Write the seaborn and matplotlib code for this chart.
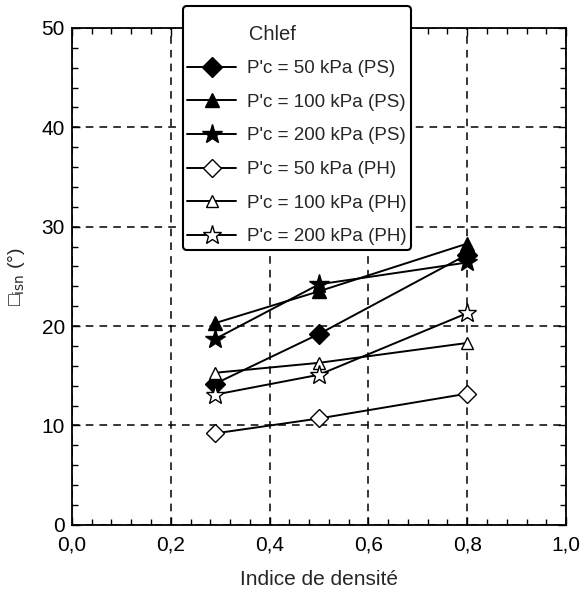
import matplotlib
matplotlib.use("Agg")
import matplotlib.pyplot as plt
import seaborn as sns
import pandas as pd
from matplotlib.ticker import MultipleLocator, FuncFormatter

sns.set_theme(style="ticks")
plt.rcParams['font.family'] = ['Liberation Sans', 'DejaVu Sans']

# ---- data ----
density_index = [0.29, 0.50, 0.80]
ps_50 = [14.2, 19.2, 27.2]
ps_100 = [20.3, 23.5, 28.3]
ps_200 = [18.7, 24.2, 26.4]
ph_50 = [9.2, 10.7, 13.2]
ph_100 = [15.3, 16.3, 18.3]
ph_200 = [13.1, 15.1, 21.3]
series_labels = ["P'c = 50 kPa (PS)", "P'c = 100 kPa (PS)", "P'c = 200 kPa (PS)",
                 "P'c = 50 kPa (PH)", "P'c = 100 kPa (PH)", "P'c = 200 kPa (PH)"]
x_ticks = [0.0, 0.2, 0.4, 0.6, 0.8, 1.0]
y_ticks = [0, 10, 20, 30, 40, 50]

series_values = [ps_50, ps_100, ps_200, ph_50, ph_100, ph_200]
rows = []
for lab, vals in zip(series_labels, series_values):
    for x, v in zip(density_index, vals):
        rows.append({"Indice de densité": x, "angle": v, "serie": lab})
df = pd.DataFrame(rows)

styles = [
    dict(marker="D", ms=10, mfc="black"),
    dict(marker="^", ms=10, mfc="black"),
    dict(marker="*", ms=15, mfc="black"),
    dict(marker="D", ms=9, mfc="white"),
    dict(marker="^", ms=9, mfc="white"),
    dict(marker="*", ms=14, mfc="white"),
]

fig = plt.figure(figsize=(5.8, 5.95), dpi=100)
ax = fig.add_axes([0.124, 0.118, 0.852, 0.835])

for lab, st in zip(series_labels, styles):
    sub = df[df["serie"] == lab]
    sns.lineplot(data=sub, x="Indice de densité", y="angle", ax=ax,
                 color="black", lw=1.4, mec="black", mew=1.0,
                 label=lab, zorder=3, **st)

ax.set_xlim(0, 1)
ax.set_ylim(0, 50)
ax.set_xticks(x_ticks)
ax.set_yticks(y_ticks)
ax.xaxis.set_minor_locator(MultipleLocator(0.04))
ax.yaxis.set_minor_locator(MultipleLocator(2))
ax.xaxis.set_major_formatter(FuncFormatter(lambda v, p: f"{v:.1f}".replace(".", ",")))
ax.tick_params(which="both", direction="in", top=True, right=True, colors="black",
               labelsize=15, width=1.0)
ax.tick_params(which="major", length=6)
ax.tick_params(which="minor", length=4)
ax.tick_params(axis="x", which="major", pad=8)
ax.tick_params(axis="y", which="major", pad=5)
ax.grid(True, which="major", color="black", linestyle=(0, (5, 4)), linewidth=1.1)
for s in ax.spines.values():
    s.set_color("black")
    s.set_linewidth(1.3)

ax.set_xlabel("Indice de densité", fontsize=15, labelpad=11)
ax.set_ylabel("□$_{\\rm isn}$ (°)", fontsize=14)
ax.yaxis.set_label_coords(-0.091, 0.5)

leg = ax.legend(title="\n           Chlef", loc="upper left",
                bbox_to_anchor=(183/580, 1 - 6/595),
                bbox_transform=fig.transFigure, fontsize=13.5, title_fontsize=14.5,
                handlelength=2.6, labelspacing=0.88, borderpad=0.22,
                borderaxespad=0.0,
                frameon=True, fancybox=True, framealpha=1, edgecolor="black",
                handletextpad=0.6, alignment="left")
leg.get_title().set_linespacing(0.7)
leg.get_frame().set_linewidth(1.5)
leg.set_zorder(10)

fig.savefig("out.png", dpi=100)
